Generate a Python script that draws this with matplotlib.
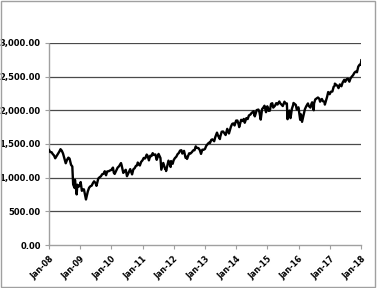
import matplotlib
matplotlib.use("Agg")
import matplotlib.pyplot as plt
import matplotlib.dates as mdates
import pandas as pd
from matplotlib.ticker import FuncFormatter, MultipleLocator

# approx. index level, two readings per month (mid / end), Jan 2008 - Jan 2018
dates = [
    "2008-01-02", "2008-01-15", "2008-01-31", "2008-02-15", "2008-02-29", "2008-03-14", "2008-03-31",
    "2008-04-15", "2008-04-30", "2008-05-15", "2008-05-30", "2008-06-13", "2008-06-30",
    "2008-07-15", "2008-07-31", "2008-08-15", "2008-08-29", "2008-09-15", "2008-09-30",
    "2008-10-10", "2008-10-27", "2008-10-31", "2008-11-20", "2008-11-28", "2008-12-15", "2008-12-31",
    "2009-01-06", "2009-01-20", "2009-01-30", "2009-02-13", "2009-02-27", "2009-03-09", "2009-03-31",
    "2009-04-15", "2009-04-30", "2009-05-15", "2009-05-29", "2009-06-12", "2009-06-30",
    "2009-07-10", "2009-07-31", "2009-08-14", "2009-08-31", "2009-09-15", "2009-09-30",
    "2009-10-15", "2009-10-30", "2009-11-13", "2009-11-30", "2009-12-15", "2009-12-31",
    "2010-01-19", "2010-01-29", "2010-02-08", "2010-02-26", "2010-03-15", "2010-03-31",
    "2010-04-23", "2010-04-30", "2010-05-20", "2010-05-28", "2010-06-18", "2010-06-30",
    "2010-07-02", "2010-07-30", "2010-08-09", "2010-08-31", "2010-09-15", "2010-09-30",
    "2010-10-15", "2010-10-29", "2010-11-05", "2010-11-30", "2010-12-15", "2010-12-31",
    "2011-01-14", "2011-01-31", "2011-02-18", "2011-02-28", "2011-03-16", "2011-03-31",
    "2011-04-15", "2011-04-29", "2011-05-13", "2011-05-31", "2011-06-15", "2011-06-30",
    "2011-07-07", "2011-07-29", "2011-08-08", "2011-08-31", "2011-09-22", "2011-09-30",
    "2011-10-03", "2011-10-31", "2011-11-25", "2011-11-30", "2011-12-19", "2011-12-30",
    "2012-01-13", "2012-01-31", "2012-02-15", "2012-02-29", "2012-03-15", "2012-03-30",
    "2012-04-10", "2012-04-30", "2012-05-18", "2012-05-31", "2012-06-04", "2012-06-29",
    "2012-07-13", "2012-07-31", "2012-08-15", "2012-08-31", "2012-09-14", "2012-09-28",
    "2012-10-15", "2012-10-31", "2012-11-15", "2012-11-30", "2012-12-14", "2012-12-31",
    "2013-01-15", "2013-01-31", "2013-02-15", "2013-02-28", "2013-03-15", "2013-03-28",
    "2013-04-18", "2013-04-30", "2013-05-21", "2013-05-31", "2013-06-24", "2013-06-28",
    "2013-07-15", "2013-07-31", "2013-08-15", "2013-08-30", "2013-09-18", "2013-09-30",
    "2013-10-08", "2013-10-31", "2013-11-15", "2013-11-29", "2013-12-13", "2013-12-31",
    "2014-01-15", "2014-01-31", "2014-02-05", "2014-02-28", "2014-03-14", "2014-03-31",
    "2014-04-11", "2014-04-30", "2014-05-15", "2014-05-30", "2014-06-16", "2014-06-30",
    "2014-07-24", "2014-07-31", "2014-08-07", "2014-08-29", "2014-09-18", "2014-09-30",
    "2014-10-15", "2014-10-31", "2014-11-14", "2014-11-28", "2014-12-16", "2014-12-31",
    "2015-01-15", "2015-01-30", "2015-02-13", "2015-02-27", "2015-03-11", "2015-03-31",
    "2015-04-15", "2015-04-30", "2015-05-21", "2015-05-29", "2015-06-15", "2015-06-30",
    "2015-07-20", "2015-07-31", "2015-08-17", "2015-08-25", "2015-08-31", "2015-09-16", "2015-09-29",
    "2015-10-15", "2015-10-30", "2015-11-03", "2015-11-30", "2015-12-11", "2015-12-31",
    "2016-01-20", "2016-01-29", "2016-02-11", "2016-02-29", "2016-03-15", "2016-03-31",
    "2016-04-20", "2016-04-29", "2016-05-19", "2016-05-31", "2016-06-08", "2016-06-27", "2016-06-30",
    "2016-07-15", "2016-07-29", "2016-08-15", "2016-08-31", "2016-09-09", "2016-09-30",
    "2016-10-14", "2016-10-31", "2016-11-04", "2016-11-30", "2016-12-13", "2016-12-30",
    "2017-01-13", "2017-01-31", "2017-02-15", "2017-02-28", "2017-03-01", "2017-03-31",
    "2017-04-13", "2017-04-28", "2017-05-17", "2017-05-31", "2017-06-19", "2017-06-30",
    "2017-07-14", "2017-07-31", "2017-08-18", "2017-08-31", "2017-09-15", "2017-09-29",
    "2017-10-16", "2017-10-31", "2017-11-15", "2017-11-30", "2017-12-15", "2017-12-29",
    "2018-01-05",
]
values = [
    1410, 1380, 1378, 1349, 1330, 1288, 1322,
    1351, 1385, 1423, 1400, 1360, 1280,
    1214, 1267, 1298, 1283, 1192, 1166,
    899, 848, 969, 752, 896, 868, 903,
    935, 805, 826, 827, 735, 677, 798,
    852, 873, 882, 919, 946, 919,
    879, 987, 1005, 1021, 1052, 1057,
    1096, 1036, 1093, 1096, 1107, 1115,
    1150, 1074, 1056, 1104, 1150, 1169,
    1217, 1187, 1071, 1089, 1117, 1031,
    1022, 1102, 1127, 1049, 1125, 1141,
    1176, 1183, 1225, 1181, 1235, 1258,
    1293, 1286, 1343, 1327, 1257, 1326,
    1320, 1364, 1338, 1345, 1265, 1321,
    1353, 1292, 1119, 1219, 1130, 1131,
    1099, 1253, 1159, 1247, 1206, 1258,
    1289, 1312, 1350, 1366, 1403, 1408,
    1358, 1398, 1295, 1310, 1278, 1362,
    1357, 1379, 1405, 1407, 1465, 1441,
    1440, 1412, 1353, 1416, 1414, 1426,
    1472, 1498, 1519, 1515, 1561, 1569,
    1541, 1598, 1669, 1631, 1573, 1606,
    1682, 1686, 1661, 1633, 1725, 1682,
    1656, 1757, 1798, 1806, 1775, 1848,
    1848, 1783, 1751, 1859, 1841, 1872,
    1815, 1884, 1870, 1924, 1937, 1960,
    1987, 1931, 1910, 2003, 2011, 1972,
    1862, 2018, 2039, 2068, 1972, 2059,
    1992, 1995, 2096, 2105, 2040, 2068,
    2106, 2086, 2131, 2107, 2085, 2063,
    2128, 2104, 2102, 1868, 1972, 1996, 1884,
    2023, 2079, 2109, 2080, 2012, 2044,
    1859, 1940, 1829, 1932, 2015, 2060,
    2102, 2065, 2040, 2097, 2119, 2001, 2099,
    2162, 2174, 2190, 2171, 2128, 2168,
    2133, 2126, 2085, 2199, 2271, 2239,
    2275, 2279, 2349, 2364, 2396, 2363,
    2329, 2384, 2357, 2412, 2453, 2423,
    2459, 2470, 2425, 2472, 2500, 2519,
    2557, 2575, 2565, 2648, 2676, 2674,
    2743,
]
ticks = ["2008-01-01", "2009-01-01", "2010-01-01", "2011-01-01", "2012-01-01", "2013-01-01",
         "2014-01-01", "2015-01-01", "2016-01-01", "2017-01-01", "2018-01-01"]

dates = pd.to_datetime(dates)

fig = plt.figure(figsize=(3.78, 2.88), dpi=100)
ax = fig.add_axes([0.1296, 0.149, 0.8254, 0.702])

grid_col = "#4a4a4a"
for y in [500, 1000, 1500, 2000, 2500, 3000]:
    ax.axhline(y, color=grid_col, lw=0.9, zorder=1)

ax.plot(dates, values, color="black", lw=1.7, zorder=3)

ax.set_ylim(0, 3000)
ax.set_xlim(pd.Timestamp(ticks[0]), pd.Timestamp(ticks[-1]))
ax.yaxis.set_major_locator(MultipleLocator(500))
ax.yaxis.set_major_formatter(FuncFormatter(lambda v, p: "{:,.2f}".format(v)))
ax.set_xticks(pd.to_datetime(ticks))
ax.xaxis.set_major_formatter(mdates.DateFormatter("%b-%y"))

for s in ["top", "right"]:
    ax.spines[s].set_visible(False)
for s in ["left", "bottom"]:
    ax.spines[s].set_color("#a0a0a0")
    ax.spines[s].set_linestyle((0, (1, 1)))
    ax.spines[s].set_linewidth(1.0)

ax.tick_params(axis="both", colors="#a0a0a0", length=3, width=0.8, labelcolor="black", labelsize=6)
ax.tick_params(axis="y", pad=3)
for lab in ax.get_yticklabels():
    lab.set_fontweight("bold")
for lab in ax.get_xticklabels():
    lab.set_fontweight("bold")
    lab.set_fontsize(5.8)
    lab.set_rotation(45)
    lab.set_ha("right")
    lab.set_rotation_mode("anchor")

# thin gray frame round the whole chart
frame = plt.Rectangle((0.002, 0.002), 0.99, 0.995, transform=fig.transFigure,
                      fill=False, edgecolor="#a0a0a0", lw=1.0)
fig.patches.append(frame)

fig.savefig("out.png", dpi=100)
